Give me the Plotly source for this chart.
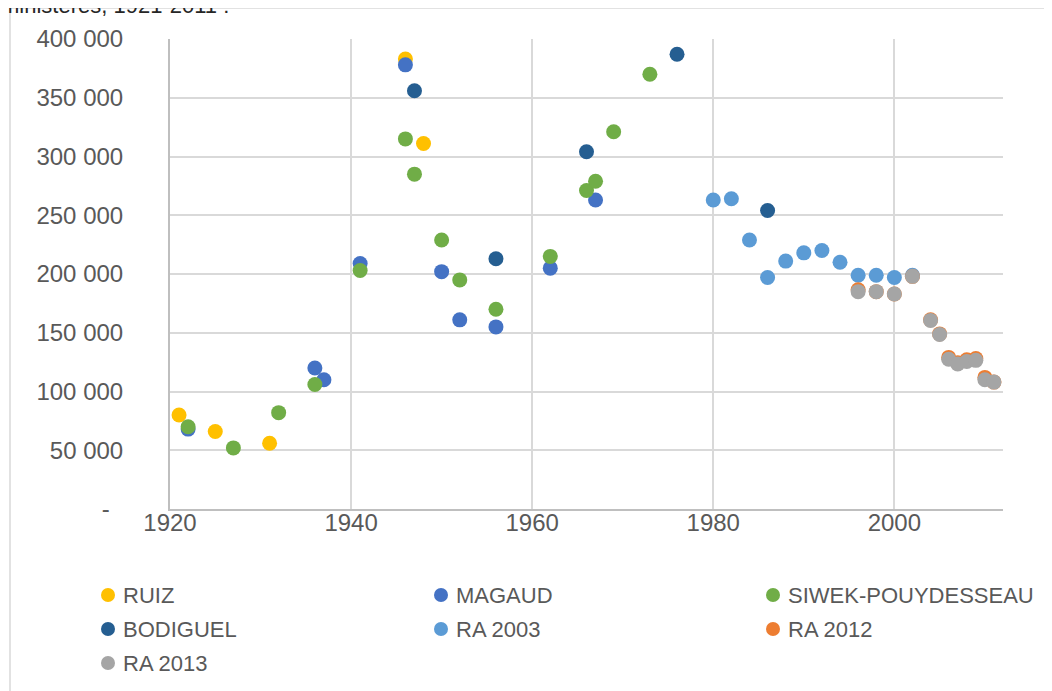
import plotly.graph_objects as go

# ---- data ----
ruiz_years = [1921, 1925, 1931, 1946, 1948]
ruiz_vals = [80000, 66000, 56000, 383000, 311000]

magaud_years = [1922, 1936, 1937, 1941, 1946, 1950, 1952, 1956, 1962, 1967]
magaud_vals = [68000, 120000, 110000, 209000, 378000, 202000, 161000, 155000, 205000, 263000]

siwek_years = [1922, 1927, 1932, 1936, 1941, 1946, 1947, 1950, 1952, 1956, 1962, 1966, 1967, 1969, 1973]
siwek_vals = [70000, 52000, 82000, 106000, 203000, 315000, 285000, 229000, 195000, 170000,
              215000, 271000, 279000, 321000, 370000]

bodiguel_years = [1947, 1956, 1966, 1976, 1986]
bodiguel_vals = [356000, 213000, 304000, 387000, 254000]

ra2003_years = [1980, 1982, 1984, 1986, 1988, 1990, 1992, 1994, 1996, 1998, 2000, 2002]
ra2003_vals = [263000, 264000, 229000, 197000, 211000, 218000, 220000, 210000, 199000, 199000, 197000, 199000]

ra2012_years = [1996, 1998, 2000, 2002, 2004, 2005, 2006, 2007, 2008, 2009, 2010, 2011]
ra2012_vals = [186500, 185000, 183000, 198000, 161000, 149000, 129000, 124500, 127000, 128000, 112000, 108000]

ra2013_years = [1996, 1998, 2000, 2002, 2004, 2005, 2006, 2007, 2008, 2009, 2010, 2011]
ra2013_vals = [185000, 185000, 183000, 198000, 160500, 148500, 127500, 123500, 125500, 126500, 110000, 108000]

y_tickvals = [0, 50000, 100000, 150000, 200000, 250000, 300000, 350000, 400000]
y_ticktext = ["-\u00a0\u00a0", "50 000", "100 000", "150 000", "200 000", "250 000", "300 000", "350 000", "400 000"]
x_tickvals = [1920, 1940, 1960, 1980, 2000]

series = [
    ("RUIZ", ruiz_years, ruiz_vals, "#FFC000"),
    ("MAGAUD", magaud_years, magaud_vals, "#4472C4"),
    ("SIWEK-POUYDESSEAU", siwek_years, siwek_vals, "#70AD47"),
    ("BODIGUEL", bodiguel_years, bodiguel_vals, "#255E91"),
    ("RA 2003", ra2003_years, ra2003_vals, "#5B9BD5"),
    ("RA 2012", ra2012_years, ra2012_vals, "#ED7D31"),
    ("RA 2013", ra2013_years, ra2013_vals, "#A5A5A5"),
]

FONT = "Liberation Sans, Arial, sans-serif"
OFF = 8  # page body margin: figure starts 8px right/down in the window
W, H = 1052, 691
# target plot area in window pixels: x 170..1003, y 39..509
ML, MT = 170 - OFF, 39 - OFF
MR = W - (1003 - OFF)
MB = H - (509 - OFF)
PW, PH = W - ML - MR, H - MT - MB


def px_x(px):
    return (px - OFF - ML) / PW


def px_y(py):
    return (H - MB - (py - OFF)) / PH


fig = go.Figure()
for name, xs, ys, col in series:
    fig.add_trace(go.Scatter(
        x=xs, y=ys, mode="markers", name=name, showlegend=False,
        marker=dict(size=15, color=col, line=dict(width=0)),
    ))

# legend built as shapes + annotations (3 columns)
leg_col_x = [108, 441, 773]
leg_row_y = [595, 629, 663]
shapes = [dict(
    type="rect", xref="paper", yref="paper",
    x0=px_x(10), x1=px_x(1080), y0=px_y(720), y1=px_y(8),
    line=dict(color="#d9d9d9", width=1.5), fillcolor="rgba(0,0,0,0)", layer="below",
)]
annotations = [dict(
    text="ministères, 1921-2011 :", xref="paper", yref="paper",
    x=px_x(-1), xanchor="left", y=px_y(20), yanchor="bottom", showarrow=False,
    font=dict(family=FONT, size=22, color="#262626"),
)]
for i, (name, _, _, col) in enumerate(series):
    cx = leg_col_x[i % 3]
    cy = leg_row_y[i // 3]
    shapes.append(dict(
        type="circle", xref="paper", yref="paper",
        xsizemode="pixel", ysizemode="pixel",
        xanchor=px_x(cx), yanchor=px_y(cy),
        x0=-7, x1=7, y0=-7, y1=7,
        fillcolor=col, line=dict(width=0),
    ))
    annotations.append(dict(
        text=name, xref="paper", yref="paper",
        x=px_x(cx + 13), xanchor="left", y=px_y(cy), yanchor="middle",
        showarrow=False, font=dict(family=FONT, size=22, color="#595959"),
    ))

fig.update_layout(
    width=W, height=H,
    margin=dict(l=ML, r=MR, t=MT, b=MB, autoexpand=False),
    paper_bgcolor="white", plot_bgcolor="white",
    font=dict(family=FONT, size=24, color="#595959"),
    showlegend=False,
    xaxis=dict(
        range=[1920, 2012], tickvals=x_tickvals, ticks="",
        showgrid=True, gridcolor="#d9d9d9", gridwidth=2,
        showline=True, linecolor="#bfbfbf", linewidth=2,
        zeroline=False, tickfont=dict(size=24), ticklabelstandoff=-9,
        automargin=False,
    ),
    yaxis=dict(
        range=[0, 400000], tickvals=y_tickvals, ticktext=y_ticktext, ticks="",
        showgrid=True, gridcolor="#d9d9d9", gridwidth=2,
        showline=True, linecolor="#bfbfbf", linewidth=2,
        zeroline=False, tickfont=dict(size=24), ticklabelstandoff=40,
        automargin=False,
    ),
    shapes=shapes,
    annotations=annotations,
)

fig.write_html("out.html")
